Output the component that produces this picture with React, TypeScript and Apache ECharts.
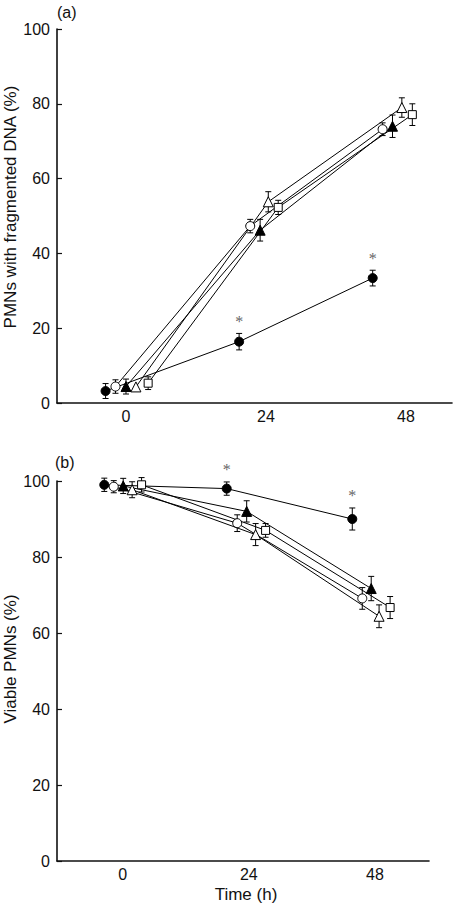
import React, { useEffect, useRef } from "react";
import * as echarts from "echarts";

// ---------- data ----------
const timeTicks = [0, 24, 48];
const groupNames = ["filledCircle", "openCircle", "filledTriangle", "openTriangle", "openSquare"];

// Panel (a): PMNs with fragmented DNA (%) — plotted x positions (h), means, SE
const aX = [
  [-3.5, 19.4, 42.3],
  [-1.8, 21.3, 44.0],
  [0.0, 23.0, 45.7],
  [1.7, 24.4, 47.3],
  [3.8, 26.1, 49.1],
];
const aY = [
  [3.2, 16.4, 33.4],
  [4.4, 47.3, 73.2],
  [4.4, 46.2, 74.0],
  [4.3, 53.8, 79.0],
  [5.3, 52.3, 77.1],
];
const aErr = [
  [2.0, 2.2, 2.1],
  [1.8, 1.8, 1.7],
  [2.0, 2.9, 3.0],
  [0, 2.7, 2.6],
  [1.7, 1.9, 2.9],
];
const aSig = [false, true, true];

// Panel (b): Viable PMNs (%)
const bX = [
  [-3.5, 19.8, 43.7],
  [-1.7, 21.8, 45.6],
  [0.1, 23.6, 47.3],
  [1.8, 25.3, 48.8],
  [3.6, 27.2, 50.9],
];
const bY = [
  [99.0, 98.0, 90.0],
  [98.5, 88.9, 69.1],
  [98.7, 92.0, 71.7],
  [97.7, 85.9, 64.4],
  [99.0, 87.0, 66.7],
];
const bErr = [
  [1.75, 1.75, 2.9],
  [1.6, 2.2, 2.85],
  [2.0, 2.8, 3.2],
  [2.1, 2.9, 3.0],
  [1.9, 1.8, 2.9],
];
const bSig = [false, true, true];

const FONT = "'Liberation Sans', Arial, Helvetica, sans-serif";
const SERIF = "'Liberation Serif', 'DejaVu Serif', serif";
const FS = 16;

const markerStyles: Record<string, any> = {
  filledCircle: { symbol: "circle", size: 9, fill: "#000" },
  openCircle: { symbol: "circle", size: 9, fill: "#fff" },
  filledTriangle: { symbol: "triangle", size: 10, fill: "#000" },
  openTriangle: { symbol: "triangle", size: 10, fill: "#fff" },
  openSquare: { symbol: "rect", size: 8, fill: "#fff" },
};

function buildPanel(idx: number, xs: number[][], ys: number[][], errs: number[][], sig: boolean[]) {
  const series: any[] = [];
  groupNames.forEach((g, gi) => {
    const st = markerStyles[g];
    const errData = xs[gi].map((x, i) => [x, ys[gi][i], errs[gi][i], gi === 0 && sig[i] ? 1 : 0]);
    series.push({
      type: "custom",
      name: g + "-err" + idx,
      xAxisIndex: idx,
      yAxisIndex: idx,
      z: 1,
      clip: false,
      encode: { x: 0, y: 1 },
      data: errData,
      renderItem: (params: any, api: any) => {
        const x = api.value(0);
        const y = api.value(1);
        const e = api.value(2);
        const s = api.value(3);
        const children: any[] = [];
        const top = api.coord([x, y + e]);
        const bot = api.coord([x, y - e]);
        const hw = 3;
        const ls = { stroke: "#000", lineWidth: 1 };
        if (e > 0) {
          children.push({ type: "line", shape: { x1: top[0], y1: top[1], x2: bot[0], y2: bot[1] }, style: ls });
          children.push({ type: "line", shape: { x1: top[0] - hw, y1: top[1], x2: top[0] + hw, y2: top[1] }, style: ls });
          children.push({ type: "line", shape: { x1: bot[0] - hw, y1: bot[1], x2: bot[0] + hw, y2: bot[1] }, style: ls });
        }
        if (s) {
          children.push({
            type: "text",
            x: top[0],
            y: top[1] - 12,
            style: { text: "*", fill: "#666", font: "16px " + SERIF, align: "center", verticalAlign: "middle" },
          });
        }
        return { type: "group", children };
      },
    });
    series.push({
      type: "line",
      name: g + idx,
      xAxisIndex: idx,
      yAxisIndex: idx,
      z: 2,
      symbol: st.symbol,
      symbolSize: st.size,
      showAllSymbol: true,
      data: xs[gi].map((x, i) => [x, ys[gi][i]]),
      lineStyle: { color: "#000", width: 1 },
      itemStyle: { color: st.fill, borderColor: "#000", borderWidth: 1 },
      emphasis: { disabled: true },
    });
  });
  return series;
}

function makeXAxis(gridIndex: number, min: number, max: number) {
  return {
    type: "value",
    gridIndex,
    min,
    max,
    axisLine: { show: true, onZero: false, lineStyle: { color: "#111", width: 1.6 } },
    axisTick: { show: false },
    splitLine: { show: false },
    axisLabel: {
      customValues: timeTicks,
      color: "#111",
      fontFamily: FONT,
      fontSize: FS,
      margin: 5,
    },
  };
}

function makeYAxis(gridIndex: number) {
  return {
    type: "value",
    gridIndex,
    min: 0,
    max: 100,
    interval: 20,
    axisLine: { show: true, onZero: false, lineStyle: { color: "#111", width: 1.6 } },
    axisTick: { show: true, inside: true, length: 5, lineStyle: { color: "#111", width: 1.2 } },
    splitLine: { show: false },
    axisLabel: { color: "#111", fontFamily: FONT, fontSize: FS, margin: 7 },
  };
}

export default function App() {
  const ref = useRef<HTMLDivElement>(null);
  useEffect(() => {
    if (!ref.current) return;
    const chart = echarts.init(ref.current, undefined, { renderer: "svg" });
    const option: any = {
      animation: false,
      backgroundColor: "#fff",
      grid: [
        { left: 57, top: 29, width: 395, height: 374 },
        { left: 57, top: 481, width: 372, height: 380 },
      ],
      xAxis: [makeXAxis(0, -11.83, 55.9), makeXAxis(1, -12.5, 58.3)],
      yAxis: [makeYAxis(0), makeYAxis(1)],
      series: [...buildPanel(0, aX, aY, aErr, aSig), ...buildPanel(1, bX, bY, bErr, bSig)],
      graphic: [
        { type: "text", left: 57, top: 4, style: { text: "(a)", font: FS + "px " + FONT, fill: "#111" } },
        { type: "text", left: 55, top: 454, style: { text: "(b)", font: FS + "px " + FONT, fill: "#111" } },
        {
          type: "text",
          x: 10,
          y: 207,
          rotation: Math.PI / 2,
          style: { text: "PMNs with fragmented DNA (%)", font: "17px " + FONT, fill: "#111", align: "center", verticalAlign: "middle" },
        },
        {
          type: "text",
          x: 10,
          y: 659,
          rotation: Math.PI / 2,
          style: { text: "Viable PMNs (%)", font: "17px " + FONT, fill: "#111", align: "center", verticalAlign: "middle" },
        },
        {
          type: "text",
          x: 246,
          y: 894,
          style: { text: "Time (h)", font: "17px " + FONT, fill: "#111", align: "center", verticalAlign: "middle" },
        },
      ],
    };
    chart.setOption(option);
    return () => chart.dispose();
  }, []);
  return <div ref={ref} style={{ position: "absolute", left: 0, top: 0, width: 454, height: 904 }} />;
}
